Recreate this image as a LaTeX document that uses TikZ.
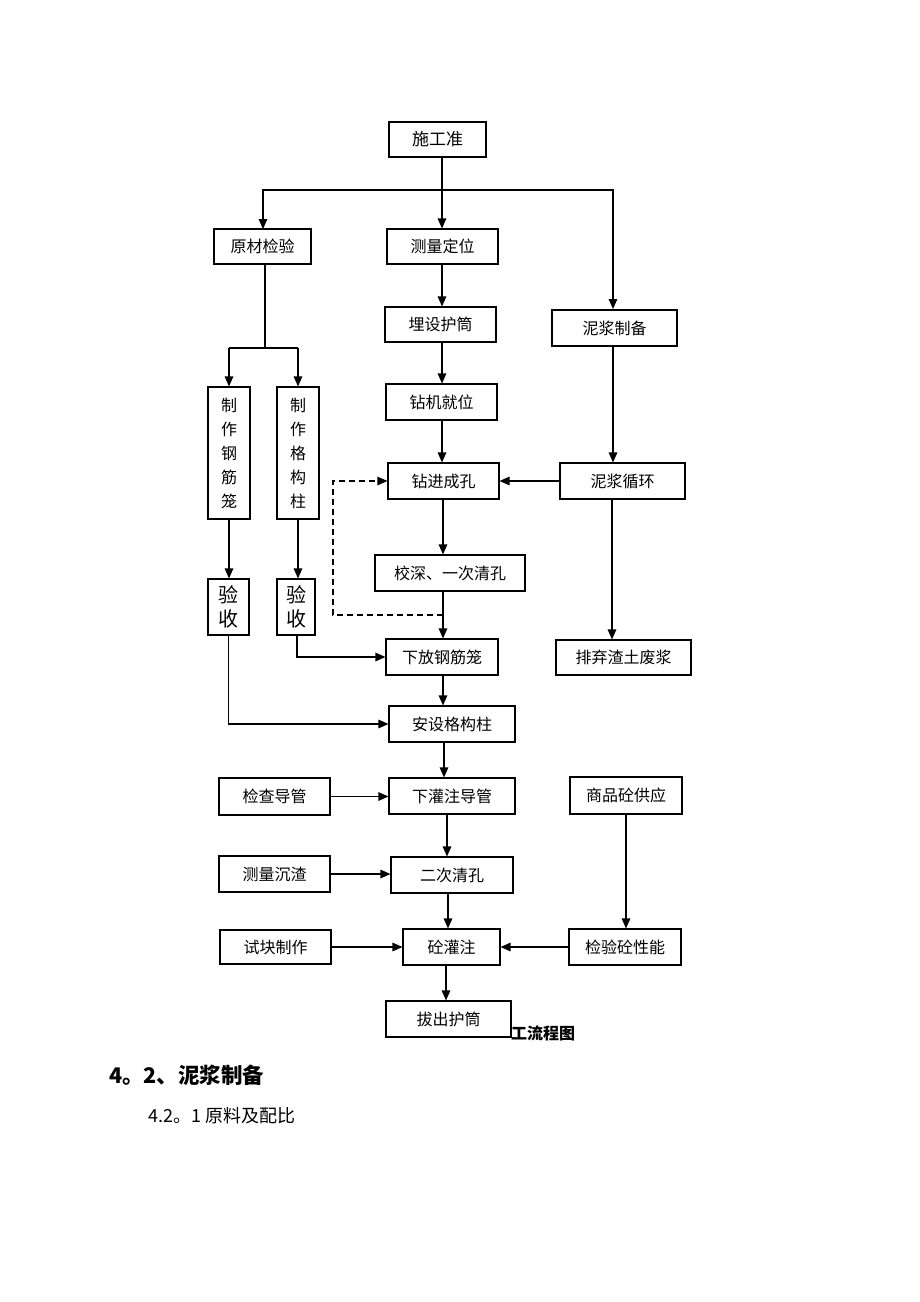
\documentclass[tikz,border=0pt]{standalone}
\usepackage{fontspec}
\newfontfamily\cjk{Noto Sans CJK SC}
\usetikzlibrary{arrows.meta}
\tikzset{
  box/.style={draw, line width=1.1pt, inner sep=0pt, text height=12.8pt, text depth=0.6pt, font=\cjk\fontsize{16}{19}\selectfont},
  vbox/.style={draw, line width=1.1pt, inner sep=0pt, align=center, font=\cjk\fontsize{16}{24}\selectfont},
  ybox/.style={draw, line width=1.1pt, inner sep=0pt, align=center, font=\cjk\fontsize{20}{24}\selectfont},
  conn/.style={line width=1.3pt},
  arr/.style={conn, -{Triangle[length=10pt,width=8.5pt]}},
}
\newcommand\bx[7][box]{\node[#1, minimum width={(#5-#3)*1pt}, minimum height={(#6-#4)*1pt}] (#2) at ({(#3+#5)/2},{(#4+#6)/2}) {#7};}
\begin{document}
\begin{tikzpicture}[x=1pt,y=-1pt]
\useasboundingbox (0,0) rectangle (920,1302);
\fill[white] (0,0) rectangle (920,1302);
\bx{zb}{389}{122}{486}{157}{\fontsize{17}{19}\selectfont 施工准\hspace{16pt}}
\bx{yc}{214}{229}{311}{264}{原材检验}
\bx{cl}{387}{229}{498}{264}{测量定位}
\bx{mh}{385}{307}{496}{342}{埋设护筒}
\bx{nj}{552}{310}{677}{346}{泥浆制备}
\bx[vbox]{gj}{208}{387}{250}{519}{制\\作\\钢\\筋\\笼}
\bx[vbox]{gz}{277}{387}{319}{519}{制\\作\\格\\构\\柱}
\bx{zj}{386}{384}{497}{420}{钻机就位}
\bx{zc}{388}{463}{499}{499}{钻进成孔}
\bx{xh}{560}{463}{685}{499}{泥浆循环}
\bx{js}{375}{555}{525}{591}{校深、一次清孔}
\bx[ybox]{ysa}{208}{579}{249}{635}{验\\收}
\bx[ybox]{ysb}{277}{579}{315}{635}{验\\收}
\bx{xf}{386}{639}{498}{675}{下放钢筋笼}
\bx{pq}{556}{640}{691}{675}{排弃渣土废浆}
\bx{az}{389}{706}{515}{742}{安设格构柱}
\bx{jc}{219}{778}{330}{815}{检查导管}
\bx{xg}{389}{778}{515}{814}{下灌注导管}
\bx{sp}{570}{777}{682}{814}{商品砼供应}
\bx{cz}{219}{856}{330}{892}{测量沉渣}
\bx{ec}{391}{857}{513}{893}{二次清孔}
\bx{sk}{220}{930}{331}{964}{试块制作}
\bx{tg}{403}{929}{500}{965}{砼灌注}
\bx{jy}{569}{929}{681}{965}{检验砼性能}
\bx{bc}{386}{1001}{511}{1037}{拔出护筒}

\node[anchor=west, inner sep=0pt, font=\cjk\bfseries\fontsize{16}{18}\selectfont] (cap) at (511,1033) {工流程图};
\node[anchor=west, inner sep=0pt, font=\cjk\bfseries\fontsize{21.5}{24}\selectfont] (h1) at (109,1075) {4。2、泥浆制备};
\node[anchor=west, inner sep=0pt, font=\cjk\fontsize{18}{20}\selectfont] (h2) at (148,1116) {4.2。1 原料及配比};

\coordinate (j1) at (442,190);
\draw[conn] (zb.south -| j1) -- (j1);
\draw[arr] (j1) -- (j1 |- cl.north);
\draw[arr] (j1) -| (263,229);
\draw[arr] (j1) -| (613,309);

\coordinate (j2) at (265,348);
\draw[conn] (yc.south -| j2) -- (j2);
\draw[conn] (229,348) -- (298,348);
\draw[arr] (229,348) -- (gj.north);
\draw[arr] (298,348) -- (gz.north);

\draw[arr] (cl.south -| j1) -- (mh.north -| j1);
\draw[arr] (mh.south -| j1) -- (zj.north -| j1);
\draw[arr] (zj.south -| j1) -- (zc.north -| j1);

\draw[arr] (nj.south -| 613,0) -- (xh.north -| 613,0);
\draw[arr] (xh.west) -- (zc.east);
\draw[arr] (xh.south -| 612,0) -- (pq.north -| 612,0);

\draw[arr] (zc.south -| 443,0) -- (js.north -| 443,0);
\draw[arr] (js.south -| 443,0) -- (xf.north -| 443,0);
\coordinate (d1) at (443,615);
\draw[arr, dash pattern=on 6pt off 4pt, line width=1.1pt] (d1) -- (333,615) |- (zc.west);

\draw[arr] (gj.south) -- (gj.south |- ysa.north);
\draw[arr] (gz.south) -- (gz.south |- ysb.north);
\draw[arr] (ysb.south -| 297,0) |- (xf.west);
\draw[arr] (ysa.south) |- (az.west);

\draw[arr] (xf.south -| 443,0) -- (az.north -| 443,0);
\draw[arr] (az.south -| 444,0) -- (xg.north -| 444,0);
\draw[arr] (jc.east) -- (jc.east -| xg.west);
\draw[arr] (xg.south -| 447,0) -- (ec.north -| 447,0);
\draw[arr] (cz.east) -- (cz.east -| ec.west);
\draw[arr] (ec.south -| 448,0) -- (tg.north -| 448,0);
\draw[arr] (sk.east) -- (sk.east -| tg.west);
\draw[arr] (jy.west) -- (tg.east);
\draw[arr] (sp.south) -- (sp.south |- jy.north);
\draw[arr] (tg.south -| 446,0) -- (bc.north -| 446,0);
\end{tikzpicture}
\end{document}
